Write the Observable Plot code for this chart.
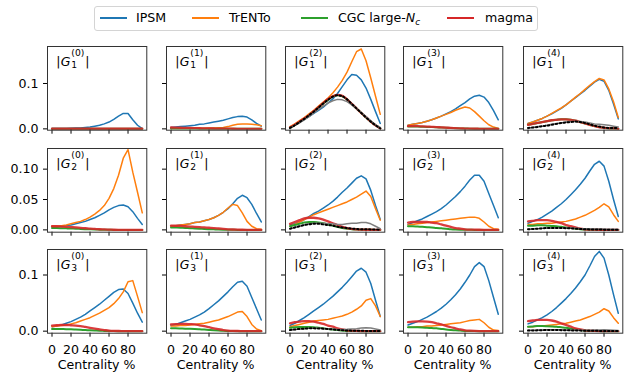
<!DOCTYPE html>
<html><head><meta charset="utf-8">
<script src="https://cdn.jsdelivr.net/npm/d3@7"></script>
<script src="https://cdn.jsdelivr.net/npm/@observablehq/plot@0.6"></script>
<style>
body{margin:0;background:#fff;font-family:"DejaVu Sans",sans-serif;}
#chart{position:relative;width:631px;height:381px;overflow:hidden;background:#fff;}
.panel{position:absolute;}
#legend{position:absolute;left:94px;top:6px;width:444px;height:25px;border:1px solid #d4d4d4;border-radius:3px;box-sizing:border-box;background:#fff;}
.li{position:absolute;top:10px;width:27px;height:2px;}
.lt{position:absolute;top:4px;font-size:12.6px;line-height:14px;color:#000;white-space:nowrap;}
</style></head><body><div id="chart"><div id="legend"></div></div>
<script>
// ---------- data ----------
const centrality = [0,5,10,15,20,25,30,35,40,45,50,55,60,65,70,75,80,85,90,95];
const xTicks = [0,20,40,60,80];
const yTicksRow1 = [0, 0.1];        const yTickLabelsRow1 = ["0.0","0.1"];
const yTicksRow2 = [0, 0.05, 0.1];  const yTickLabelsRow2 = ["0.00","0.05","0.10"];
const yTicksRow3 = [0, 0.1];        const yTickLabelsRow3 = ["0.0","0.1"];
const seriesNames = ["IPSM","TrENTo","CGC large-Nc","magma"];

// row 1: |G_1^(k)|
const G1_0_IPSM   = [0.001,0.001,0.001,0.001,0.0015,0.002,0.002,0.003,0.004,0.006,0.008,0.011,0.015,0.021,0.028,0.034,0.034,0.02,0.008,0.0005];
const G1_0_TrENTo = [0.0003,0.0003,0.0003,0.0003,0.0003,0.0003,0.0003,0.0003,0.0003,0.0003,0.0003,0.0003,0.0003,0.0003,0.0003,0.0003,0.0003,0.0003,0.0003,0.0003];
const G1_0_CGC    = [0,0,0,0,0,0,0,0,0,0,0,0,0,0,0,0,0,0,0,0];
const G1_0_magma  = [0.0003,0.0003,0.0003,0.0003,0.0003,0.0003,0.0003,0.0003,0.0003,0.0003,0.0003,0.0003,0.0003,0.0003,0.0003,0.0003,0.0003,0.0003,0.0003,0.0003];

const G1_1_IPSM   = [0.003,0.004,0.005,0.006,0.007,0.008,0.01,0.011,0.013,0.015,0.017,0.019,0.022,0.025,0.027,0.028,0.026,0.02,0.012,0.006];
const G1_1_TrENTo = [0.001,0.001,0.001,0.001,0.001,0.0012,0.0014,0.0016,0.0018,0.002,0.0025,0.003,0.005,0.008,0.01,0.011,0.011,0.01,0.009,0.007];
const G1_1_CGC    = [0.001,0.001,0.0009,0.0008,0.0007,0.0006,0.0005,0.0004,0.0003,0.0002,0.0002,0.0001,0.0001,0,0,0,0,0,0,0];
const G1_1_magma  = [0.003,0.0028,0.0025,0.0022,0.002,0.0017,0.0014,0.0012,0.001,0.0008,0.0006,0.0005,0.0004,0.0003,0.0002,0.0002,0.0001,0.0001,0,0];

const G1_2_IPSM   = [0.004,0.009,0.015,0.021,0.027,0.034,0.041,0.048,0.057,0.066,0.078,0.093,0.108,0.12,0.118,0.108,0.09,0.065,0.038,0.012];
const G1_2_TrENTo = [0.005,0.011,0.018,0.025,0.033,0.041,0.05,0.059,0.068,0.079,0.092,0.107,0.125,0.148,0.17,0.176,0.15,0.112,0.072,0.032];
const G1_2_CGC    = [0.002,0.008,0.015,0.022,0.03,0.038,0.047,0.056,0.064,0.071,0.074,0.072,0.065,0.055,0.045,0.035,0.025,0.016,0.008,0.001];
const G1_2_magma  = [0.003,0.009,0.016,0.023,0.03,0.039,0.048,0.057,0.066,0.072,0.075,0.073,0.065,0.055,0.045,0.035,0.026,0.016,0.008,0.001];
const G1_2_gray   = [0.002,0.007,0.013,0.02,0.027,0.035,0.043,0.05,0.057,0.062,0.065,0.064,0.06,0.053,0.045,0.036,0.027,0.018,0.009,0.003];
const G1_2_ref    = [0.002,0.008,0.015,0.022,0.03,0.038,0.047,0.056,0.064,0.071,0.074,0.072,0.065,0.055,0.045,0.035,0.025,0.016,0.008,0.001];

const G1_3_IPSM   = [0.008,0.01,0.012,0.014,0.017,0.02,0.024,0.028,0.033,0.038,0.044,0.051,0.058,0.066,0.072,0.074,0.07,0.058,0.04,0.02];
const G1_3_TrENTo = [0.008,0.01,0.012,0.014,0.017,0.02,0.024,0.028,0.032,0.036,0.041,0.045,0.048,0.046,0.038,0.028,0.018,0.009,0.004,0.001];
const G1_3_CGC    = [0.005,0.005,0.005,0.0047,0.0043,0.004,0.0035,0.003,0.0025,0.002,0.0015,0.001,0.0007,0.0005,0.0003,0.0002,0.0001,0,0,0];
const G1_3_magma  = [0.006,0.006,0.006,0.0055,0.005,0.0045,0.004,0.0033,0.0027,0.002,0.0015,0.001,0.0007,0.0005,0.0003,0.0002,0.0001,0.0001,0,0];

const G1_4_IPSM   = [0.012,0.015,0.019,0.023,0.028,0.033,0.039,0.045,0.053,0.061,0.069,0.077,0.085,0.094,0.103,0.109,0.105,0.085,0.055,0.022];
const G1_4_TrENTo = [0.012,0.015,0.019,0.023,0.028,0.034,0.04,0.046,0.053,0.061,0.07,0.078,0.087,0.096,0.104,0.111,0.108,0.088,0.06,0.025];
const G1_4_CGC    = [0.009,0.011,0.013,0.015,0.017,0.019,0.02,0.021,0.021,0.02,0.018,0.015,0.012,0.009,0.006,0.004,0.002,0.001,0.001,0];
const G1_4_magma  = [0.009,0.011,0.013,0.015,0.017,0.019,0.02,0.021,0.021,0.02,0.018,0.015,0.012,0.009,0.006,0.004,0.002,0.001,0.001,0];
const G1_4_gray   = [0.002,0.003,0.005,0.006,0.008,0.01,0.012,0.013,0.015,0.016,0.016,0.016,0.015,0.013,0.011,0.01,0.009,0.008,0.006,0.004];
const G1_4_ref    = [0.002,0.003,0.004,0.006,0.007,0.009,0.011,0.013,0.014,0.015,0.016,0.015,0.013,0.01,0.007,0.005,0.003,0.002,0.002,0.002];

// row 2: |G_2^(k)|
const G2_0_IPSM   = [0.005,0.005,0.006,0.007,0.008,0.01,0.012,0.014,0.017,0.02,0.024,0.028,0.033,0.037,0.04,0.041,0.038,0.03,0.019,0.009];
const G2_0_TrENTo = [0.006,0.006,0.007,0.008,0.01,0.012,0.014,0.017,0.021,0.026,0.032,0.04,0.052,0.068,0.09,0.118,0.132,0.095,0.062,0.028];
const G2_0_CGC    = [0.003,0.003,0.0028,0.0025,0.0022,0.002,0.0016,0.0012,0.0009,0.0006,0.0004,0.0002,0.0001,0,0,0,0,0,0,0];
const G2_0_magma  = [0.006,0.006,0.0055,0.005,0.0045,0.004,0.0033,0.0027,0.002,0.0015,0.001,0.0007,0.0004,0.0002,0.0001,0.0001,0,0,0,0];

const G2_1_IPSM   = [0.006,0.007,0.008,0.009,0.01,0.012,0.013,0.015,0.017,0.02,0.024,0.029,0.035,0.043,0.052,0.057,0.053,0.042,0.027,0.013];
const G2_1_TrENTo = [0.006,0.007,0.008,0.009,0.01,0.012,0.013,0.015,0.017,0.02,0.024,0.029,0.036,0.042,0.04,0.028,0.014,0.006,0.002,0.001];
const G2_1_CGC    = [0.004,0.0038,0.0035,0.0032,0.0028,0.0024,0.002,0.0016,0.0012,0.0009,0.0006,0.0004,0.0002,0.0001,0,0,0,0,0,0];
const G2_1_magma  = [0.007,0.0068,0.0065,0.006,0.0055,0.005,0.0045,0.004,0.0035,0.003,0.0023,0.0016,0.001,0.0006,0.0003,0.0002,0.0001,0,0,0];

const G2_2_IPSM   = [0.008,0.01,0.013,0.017,0.022,0.027,0.031,0.036,0.041,0.047,0.054,0.062,0.069,0.077,0.085,0.089,0.084,0.065,0.04,0.017];
const G2_2_TrENTo = [0.006,0.009,0.013,0.017,0.021,0.025,0.028,0.031,0.034,0.037,0.04,0.043,0.046,0.05,0.054,0.059,0.064,0.055,0.035,0.016];
const G2_2_CGC    = [0.006,0.008,0.01,0.012,0.013,0.013,0.012,0.011,0.009,0.007,0.005,0.003,0.002,0.001,0.0005,0.0003,0.0002,0.0001,0,0];
const G2_2_magma  = [0.01,0.013,0.016,0.019,0.02,0.02,0.019,0.017,0.014,0.011,0.008,0.005,0.003,0.0015,0.0008,0.0004,0.0002,0.0002,0.0001,0.0001];
const G2_2_gray   = [0.002,0.004,0.006,0.008,0.01,0.011,0.011,0.011,0.01,0.01,0.009,0.009,0.01,0.011,0.011,0.012,0.012,0.01,0.006,0.002];
const G2_2_ref    = [0.002,0.004,0.006,0.008,0.009,0.01,0.01,0.009,0.008,0.007,0.005,0.004,0.003,0.002,0.0015,0.001,0.001,0.0008,0.0005,0.0003];

const G2_3_IPSM   = [0.009,0.012,0.015,0.018,0.022,0.026,0.03,0.035,0.041,0.048,0.055,0.063,0.072,0.082,0.09,0.09,0.08,0.06,0.04,0.02];
const G2_3_TrENTo = [0.008,0.009,0.01,0.011,0.012,0.013,0.014,0.015,0.016,0.017,0.018,0.019,0.02,0.021,0.021,0.019,0.013,0.006,0.002,0.001];
const G2_3_CGC    = [0.006,0.006,0.0055,0.005,0.0045,0.004,0.003,0.0025,0.002,0.0012,0.0007,0.0004,0.0002,0.0001,0,0,0,0,0,0];
const G2_3_magma  = [0.012,0.013,0.013,0.013,0.013,0.012,0.011,0.009,0.007,0.005,0.003,0.002,0.001,0.0005,0.0003,0.0002,0.0001,0,0,0];

const G2_4_IPSM   = [0.011,0.014,0.017,0.021,0.026,0.031,0.037,0.043,0.05,0.058,0.066,0.075,0.085,0.097,0.108,0.113,0.105,0.08,0.05,0.022];
const G2_4_TrENTo = [0.009,0.009,0.01,0.01,0.011,0.011,0.012,0.013,0.014,0.016,0.018,0.021,0.024,0.028,0.032,0.037,0.043,0.038,0.025,0.014];
const G2_4_CGC    = [0.007,0.007,0.0075,0.0075,0.007,0.0065,0.006,0.005,0.004,0.003,0.002,0.001,0.0005,0.0003,0.0001,0,0,0,0,0];
const G2_4_magma  = [0.014,0.015,0.016,0.016,0.016,0.015,0.013,0.011,0.008,0.006,0.004,0.002,0.001,0.0005,0.0003,0.0002,0.0001,0,0,0];
const G2_4_gray   = [0.001,0.0015,0.002,0.0025,0.003,0.0032,0.0034,0.0034,0.0032,0.003,0.0026,0.0022,0.002,0.0018,0.0016,0.0015,0.0014,0.0012,0.001,0.0008];
const G2_4_ref    = [0.001,0.0015,0.002,0.0025,0.003,0.003,0.003,0.003,0.0028,0.0025,0.002,0.0015,0.001,0.0008,0.0006,0.0005,0.0004,0.0003,0.0002,0.0002];

// row 3: |G_3^(k)|
const G3_0_IPSM   = [0.008,0.009,0.011,0.014,0.017,0.021,0.025,0.03,0.036,0.042,0.048,0.055,0.062,0.069,0.074,0.075,0.067,0.05,0.032,0.016];
const G3_0_TrENTo = [0.008,0.009,0.01,0.011,0.013,0.015,0.018,0.021,0.024,0.028,0.032,0.037,0.042,0.049,0.058,0.07,0.088,0.09,0.062,0.033];
const G3_0_CGC    = [0.004,0.004,0.0038,0.0035,0.0032,0.0028,0.0024,0.002,0.0016,0.0012,0.0008,0.0005,0.0003,0.0001,0,0,0,0,0,0];
const G3_0_magma  = [0.01,0.0105,0.011,0.011,0.0105,0.01,0.009,0.0075,0.006,0.0045,0.003,0.002,0.001,0.0005,0.0003,0.0002,0.0001,0,0,0];

const G3_1_IPSM   = [0.01,0.012,0.015,0.018,0.021,0.025,0.029,0.034,0.04,0.047,0.054,0.062,0.07,0.079,0.087,0.089,0.08,0.06,0.04,0.02];
const G3_1_TrENTo = [0.009,0.009,0.01,0.01,0.011,0.012,0.013,0.014,0.016,0.018,0.02,0.023,0.026,0.03,0.034,0.035,0.026,0.012,0.004,0.001];
const G3_1_CGC    = [0.005,0.005,0.0048,0.0045,0.0042,0.0038,0.0033,0.0028,0.0022,0.0016,0.0011,0.0007,0.0004,0.0002,0.0001,0,0,0,0,0];
const G3_1_magma  = [0.012,0.0125,0.013,0.013,0.0125,0.012,0.0105,0.009,0.007,0.005,0.0035,0.002,0.001,0.0005,0.0003,0.0002,0.0001,0,0,0];

const G3_2_IPSM   = [0.01,0.014,0.019,0.024,0.03,0.036,0.042,0.048,0.055,0.062,0.07,0.078,0.087,0.097,0.107,0.112,0.105,0.085,0.055,0.026];
const G3_2_TrENTo = [0.008,0.01,0.012,0.014,0.016,0.018,0.019,0.02,0.021,0.023,0.025,0.027,0.03,0.034,0.039,0.045,0.055,0.058,0.045,0.026];
const G3_2_CGC    = [0.006,0.007,0.0075,0.0075,0.0075,0.007,0.006,0.005,0.004,0.003,0.002,0.001,0.0005,0.0003,0.0001,0,0,0,0,0];
const G3_2_magma  = [0.014,0.016,0.017,0.018,0.018,0.017,0.015,0.013,0.01,0.008,0.005,0.003,0.0015,0.0008,0.0004,0.0002,0.0001,0,0,0];
const G3_2_gray   = [0.002,0.003,0.004,0.0045,0.005,0.005,0.005,0.0046,0.004,0.0035,0.003,0.003,0.0032,0.0038,0.0045,0.0055,0.006,0.0055,0.004,0.002];
const G3_2_ref    = [0.002,0.003,0.004,0.0045,0.005,0.005,0.0048,0.0044,0.0038,0.003,0.0023,0.0017,0.0012,0.0009,0.0007,0.0006,0.0005,0.0004,0.0003,0.0002];

const G3_3_IPSM   = [0.011,0.014,0.017,0.021,0.025,0.03,0.035,0.041,0.048,0.056,0.065,0.075,0.087,0.1,0.115,0.122,0.115,0.09,0.06,0.03];
const G3_3_TrENTo = [0.007,0.007,0.008,0.008,0.009,0.009,0.01,0.011,0.012,0.013,0.014,0.015,0.017,0.019,0.02,0.021,0.015,0.007,0.002,0.001];
const G3_3_CGC    = [0.007,0.007,0.0068,0.0065,0.006,0.0055,0.005,0.004,0.003,0.0022,0.0015,0.001,0.0005,0.0003,0.0001,0,0,0,0,0];
const G3_3_magma  = [0.016,0.017,0.0175,0.0175,0.017,0.016,0.014,0.012,0.0095,0.007,0.005,0.003,0.0015,0.0008,0.0004,0.0002,0.0001,0,0,0];

const G3_4_IPSM   = [0.013,0.016,0.02,0.024,0.029,0.035,0.042,0.05,0.058,0.067,0.077,0.088,0.1,0.116,0.133,0.142,0.13,0.1,0.065,0.032];
const G3_4_TrENTo = [0.008,0.008,0.009,0.009,0.01,0.011,0.012,0.013,0.014,0.016,0.018,0.02,0.023,0.026,0.03,0.034,0.04,0.036,0.024,0.014];
const G3_4_CGC    = [0.008,0.0085,0.009,0.009,0.0088,0.0085,0.008,0.007,0.006,0.0045,0.003,0.002,0.001,0.0005,0.0002,0.0001,0,0,0,0];
const G3_4_magma  = [0.018,0.019,0.02,0.02,0.02,0.019,0.017,0.014,0.011,0.008,0.005,0.003,0.0015,0.0008,0.0004,0.0002,0.0001,0,0,0];
const G3_4_gray   = [0.0015,0.0018,0.002,0.0022,0.0024,0.0025,0.0025,0.0024,0.0022,0.002,0.0018,0.0017,0.0017,0.0018,0.002,0.0022,0.0024,0.0022,0.0018,0.0012];
const G3_4_ref    = [0.001,0.0012,0.0015,0.0018,0.002,0.002,0.002,0.0018,0.0016,0.0014,0.0012,0.001,0.0008,0.0007,0.0006,0.0005,0.0004,0.0003,0.0002,0.0002];

// ---------- assembly ----------
const panels = [
  [[G1_0_IPSM,G1_0_TrENTo,G1_0_CGC,G1_0_magma,null,null],
   [G1_1_IPSM,G1_1_TrENTo,G1_1_CGC,G1_1_magma,null,null],
   [G1_2_IPSM,G1_2_TrENTo,G1_2_CGC,G1_2_magma,G1_2_gray,G1_2_ref],
   [G1_3_IPSM,G1_3_TrENTo,G1_3_CGC,G1_3_magma,null,null],
   [G1_4_IPSM,G1_4_TrENTo,G1_4_CGC,G1_4_magma,G1_4_gray,G1_4_ref]],
  [[G2_0_IPSM,G2_0_TrENTo,G2_0_CGC,G2_0_magma,null,null],
   [G2_1_IPSM,G2_1_TrENTo,G2_1_CGC,G2_1_magma,null,null],
   [G2_2_IPSM,G2_2_TrENTo,G2_2_CGC,G2_2_magma,G2_2_gray,G2_2_ref],
   [G2_3_IPSM,G2_3_TrENTo,G2_3_CGC,G2_3_magma,null,null],
   [G2_4_IPSM,G2_4_TrENTo,G2_4_CGC,G2_4_magma,G2_4_gray,G2_4_ref]],
  [[G3_0_IPSM,G3_0_TrENTo,G3_0_CGC,G3_0_magma,null,null],
   [G3_1_IPSM,G3_1_TrENTo,G3_1_CGC,G3_1_magma,null,null],
   [G3_2_IPSM,G3_2_TrENTo,G3_2_CGC,G3_2_magma,G3_2_gray,G3_2_ref],
   [G3_3_IPSM,G3_3_TrENTo,G3_3_CGC,G3_3_magma,null,null],
   [G3_4_IPSM,G3_4_TrENTo,G3_4_CGC,G3_4_magma,G3_4_gray,G3_4_ref]]
];
const yTicks = [yTicksRow1, yTicksRow2, yTicksRow3];
const yTickLabels = [yTickLabelsRow1, yTickLabelsRow2, yTickLabelsRow3];
const yDomains = [[-0.0029, 0.1815], [-0.0038, 0.134], [-0.0036, 0.1454]];
const xDomain = [-4.75, 99.75];

const styles = [
  {stroke:"#1f77b4", strokeWidth:1.5, curve:"linear"},
  {stroke:"#ff7f0e", strokeWidth:1.5, curve:"linear"},
  {stroke:"#2ca02c", strokeWidth:2, curve:"monotone-x"},
  {stroke:"#d62728", strokeWidth:2.3, strokeOpacity:0.9, curve:"monotone-x"},
  {stroke:"#7f7f7f", strokeWidth:1.5, curve:"linear"},
  {stroke:"#000", strokeWidth:2, strokeDasharray:"1.6,2.4", curve:"monotone-x"}
];

const L = [46.7,165.7,284.7,403.3,522.7], T = [46.3,147.7,249], W = 99.3, H = 83.7;
const chart = document.getElementById("chart");
const FS = 12.6, SFS = 9.2;

for (let r = 0; r < 3; r++) {
  for (let c = 0; c < 5; c++) {
    const ml = c === 0 ? 44 : 6, mr = 1, mt = 1, mb = r === 2 ? 44 : 6;
    const marks = [];
    panels[r][c].forEach((arr, s) => {
      if (!arr) return;
      const rows = arr.map((v, i) => ({c: centrality[i], v}));
      marks.push(Plot.line(rows, {x: "c", y: "v", clip: true, ...styles[s]}));
    });
    marks.push(Plot.axisX({ticks: xTicks, tickSize: 4, tickPadding: 7.5, label: null,
      tickFormat: r === 2 ? (d => String(d)) : (() => ""), fontSize: FS}));
    marks.push(Plot.axisY({ticks: yTicks[r], tickSize: 4, tickPadding: 5, label: null,
      tickFormat: c === 0 ? (d => yTickLabels[r][yTicks[r].indexOf(d)]) : (() => ""), fontSize: FS}));
    marks.push(Plot.frame({stroke: "#333", strokeWidth: 1}));
    const svg = Plot.plot({
      width: ml + W + mr, height: mt + H + mb,
      marginLeft: ml, marginRight: mr, marginTop: mt, marginBottom: mb,
      x: {domain: xDomain, axis: null},
      y: {domain: yDomains[r], axis: null},
      style: {background: "transparent", overflow: "visible", fontFamily: "DejaVu Sans", fontSize: FS + "px", color: "#000"},
      marks
    });
    svg.classList.add("panel");
    svg.style.position = "absolute";
    svg.style.left = (L[c] - ml) + "px";
    svg.style.top = (T[r] - mt) + "px";
    const g = d3.select(svg).append("g")
      .attr("font-family", "DejaVu Sans").attr("fill", "#000").attr("text-anchor", "start");
    const x0 = ml + 9.3, base = mt + 20;
    // panel label |G_n^(k)| as one text element with tspans
    const t = g.append("text").attr("x", x0).attr("y", base).attr("font-size", FS).attr("text-anchor", "start");
    t.append("tspan").text("|");
    t.append("tspan").attr("dx", 0.2).attr("font-style", "italic").text("G");
    t.append("tspan").attr("dx", 0.8).attr("dy", 2).attr("font-size", SFS).text(String(r + 1));
    t.append("tspan").attr("dx", -0.636 * SFS).attr("dy", -12).attr("font-size", SFS).text("(" + c + ")");
    t.append("tspan").attr("dx", 1).attr("dy", 10).text("|");
    if (r === 2) {
      g.append("text").attr("x", ml + W / 2).attr("y", mt + H + 36.5).attr("font-size", FS)
        .attr("text-anchor", "middle").text("Centrality %");
    }
    chart.appendChild(svg);
  }
}

// ---------- legend ----------
const legend = document.getElementById("legend");
const legendColors = ["#1f77b4","#ff7f0e","#2ca02c","#d62728"];
const lineX = [5, 97, 206, 352], textX = [41, 134, 243, 390];
seriesNames.forEach((name, i) => {
  const ln = document.createElement("div");
  ln.className = "li"; ln.style.left = lineX[i] + "px"; ln.style.background = legendColors[i];
  legend.appendChild(ln);
  const tx = document.createElement("div");
  tx.className = "lt"; tx.style.left = textX[i] + "px";
  if (name === "CGC large-Nc") {
    tx.innerHTML = 'CGC large-<i>N</i><i style="font-size:8.8px;position:relative;top:3px;">c</i>';
  } else tx.textContent = name;
  legend.appendChild(tx);
});
</script>
</body></html>
